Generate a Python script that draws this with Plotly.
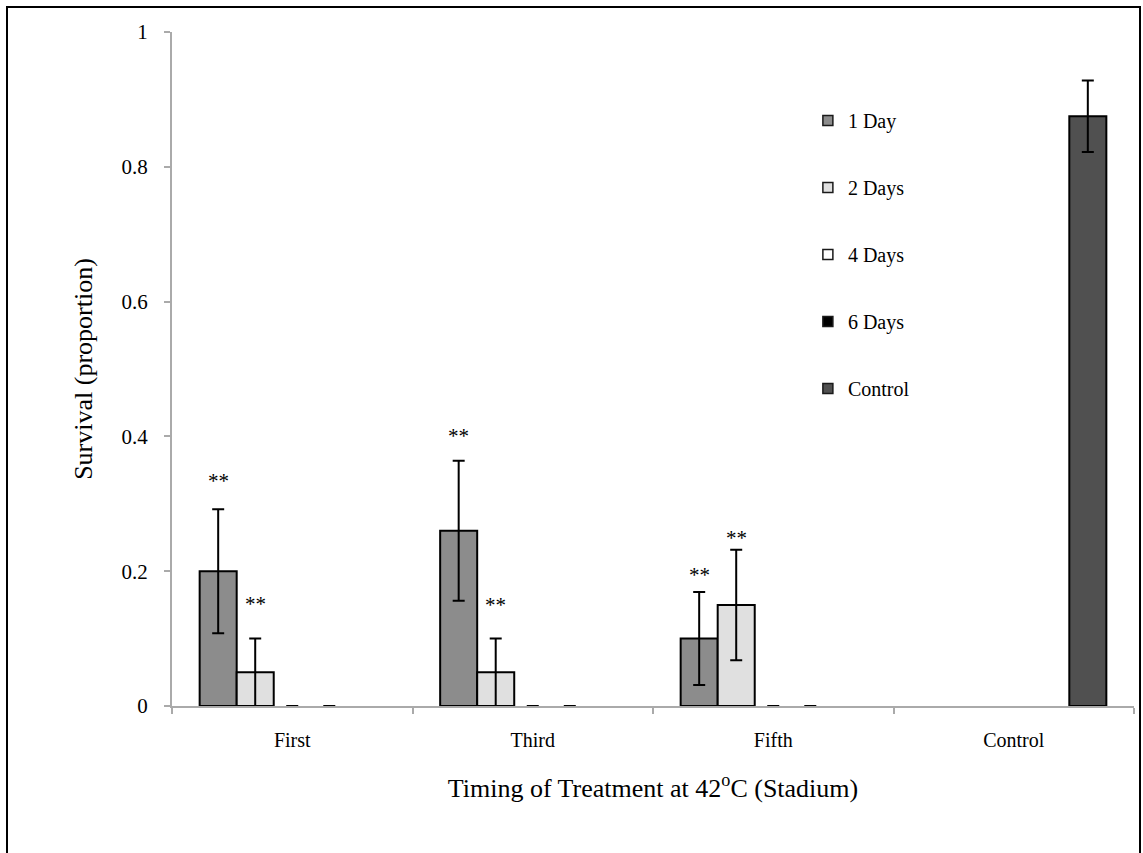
import plotly.graph_objects as go

categories = ["First", "Third", "Fifth", "Control"]
series_names = ["1 Day", "2 Days", "4 Days", "6 Days", "Control"]
series_colors = ["#8c8c8c", "#e0e0e0", "#ffffff", "#000000", "#505050"]

day1_values = [0.20, 0.26, 0.10, None]
day2_values = [0.05, 0.05, 0.15, None]
day4_values = [0.0, 0.0, 0.0, None]
day6_values = [0.0, 0.0, 0.0, None]
control_values = [None, None, None, 0.875]

day1_err = [0.092, 0.104, 0.069, 0]
day2_err = [0.05, 0.05, 0.082, 0]
day4_err = [0, 0, 0, 0]
day6_err = [0, 0, 0, 0]
control_err = [0, 0, 0, 0.053]

star_text = "**"
star_1day_y = [0.334, 0.400, 0.194]
star_2days_y = [0.151, 0.150, 0.249]

y_ticks = [0, 0.2, 0.4, 0.6, 0.8, 1]

FONT = "Liberation Serif"
W, H = 1143, 853
ML, MR, MT, MB = 172, 9, 32, 147
BARGAP = 0.23

values = [day1_values, day2_values, day4_values, day6_values, control_values]
errors = [day1_err, day2_err, day4_err, day6_err, control_err]

fig = go.Figure()
for name, vals, errs, col in zip(series_names, values, errors, series_colors):
    # zero-height bars show no outline (only their zero error-bar caps)
    lw = [2 if (v is not None and v != 0) else 0 for v in vals]
    fig.add_trace(go.Bar(
        x=categories, y=vals, name=name, legendgroup=name, showlegend=False,
        marker=dict(color=col, line=dict(color="#000000", width=lw)),
        error_y=dict(type="data", array=errs, symmetric=True, visible=True,
                     color="#000000", thickness=2, width=6),
    ))

# legend entries
for name, col in zip(series_names, series_colors):
    fig.add_trace(go.Scatter(
        x=[None], y=[None], mode="markers", name=name, legendgroup=name,
        showlegend=True, hoverinfo="skip",
        marker=dict(symbol="square", size=10, color=col,
                    line=dict(color="#1a1a1a", width=1.5)),
    ))

# star annotations above bars
n_series = len(series_names)
bar_w = (1 - BARGAP) / n_series
def offset(i):
    return -(1 - BARGAP) / 2 + bar_w / 2 + i * bar_w

annotations = []
for k in range(3):
    for si, ys in ((0, star_1day_y), (1, star_2days_y)):
        annotations.append(dict(
            x=k + offset(si), y=ys[k], xref="x", yref="y", text=star_text,
            showarrow=False, font=dict(family=FONT, size=21, color="#000000"),
            xanchor="center", yanchor="middle"))

pw = W - ML - MR
ph = H - MT - MB
fig.add_shape(type="rect", xref="paper", yref="paper",
              x0=(7 - ML) / pw, x1=(1140 - ML) / pw,
              y0=(H - MB - 880) / ph, y1=(H - MB - 7) / ph,
              line=dict(color="#000000", width=2), fillcolor="rgba(0,0,0,0)")

fig.update_layout(
    width=W, height=H,
    margin=dict(l=ML, r=MR, t=MT, b=MB, autoexpand=False),
    paper_bgcolor="#ffffff", plot_bgcolor="#ffffff",
    barmode="group", bargap=BARGAP, bargroupgap=0,
    font=dict(family=FONT, size=20, color="#000000"),
    annotations=annotations,
    showlegend=True,
    legend=dict(x=0.661, y=0.8976, xanchor="left", yanchor="top",
                bgcolor="rgba(0,0,0,0)", borderwidth=0,
                font=dict(family=FONT, size=20, color="#000000"),
                tracegroupgap=38, traceorder="grouped"),
    xaxis=dict(
        type="category", range=[-0.5, 3.5],
        showline=True, linecolor="#aaaaaa", linewidth=2,
        ticks="outside", tickson="boundaries", ticklen=6, tickcolor="#aaaaaa", tickwidth=2,
        showgrid=False, zeroline=False, automargin=False,
        ticklabelstandoff=15,
        tickfont=dict(family=FONT, size=20, color="#000000"),
        title=dict(text="Timing of Treatment at 42<sup>o</sup>C (Stadium)",
                   font=dict(family=FONT, size=26, color="#000000"), standoff=29),
    ),
    yaxis=dict(
        range=[0, 1], tickvals=y_ticks, ticktext=[f"{v:g}" for v in y_ticks],
        showline=True, linecolor="#aaaaaa", linewidth=2,
        ticks="outside", ticklen=6, tickcolor="#aaaaaa", tickwidth=2,
        showgrid=False, zeroline=False, automargin=False,
        ticklabelstandoff=12,
        tickfont=dict(family=FONT, size=21, color="#000000"),
        title=dict(text="Survival (proportion)",
                   font=dict(family=FONT, size=26, color="#000000"), standoff=21),
    ),
)

fig.write_html("out.html")
